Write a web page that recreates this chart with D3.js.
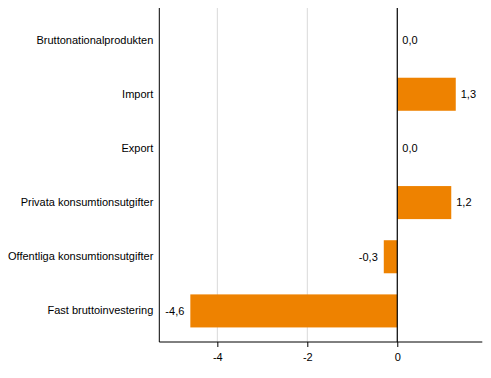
<!DOCTYPE html>
<html><head><meta charset="utf-8">
<script src="https://cdn.jsdelivr.net/npm/d3@7"></script>
<style>body{margin:0;background:#fff}svg{display:block}text{font-family:"Liberation Sans",Arial,sans-serif;font-size:11px;fill:#000}</style>
</head><body><svg id="c" width="491" height="378"></svg>
<script>
const categories = ["Bruttonationalprodukten","Import","Export","Privata konsumtionsutgifter","Offentliga konsumtionsutgifter","Fast bruttoinvestering"];
const values = [0.0, 1.3, 0.0, 1.2, -0.3, -4.6];
const xTicks = [-4, -2, 0];

(function () {
const svg = d3.select("#c");
const mLeft = 159.3, mRight = 482.3, mTop = 8, mBottom = 342;
const x = d3.scaleLinear().domain([-5.29, 1.89]).range([mLeft, mRight]);
const y = d3.scaleBand().domain(categories).range([13, 338]).paddingInner(0.39).paddingOuter(0.195);
const fmt = v => d3.format(".1f")(v).replace(".", ",").replace("−","-");

// gridlines
svg.append("g").selectAll("line").data(xTicks.filter(t => t !== 0)).join("line")
  .attr("x1", d => x(d)).attr("x2", d => x(d)).attr("y1", mTop).attr("y2", mBottom)
  .attr("stroke", "#d9d9d9").attr("stroke-width", 1);

// bars
svg.append("g").selectAll("rect").data(values).join("rect")
  .attr("x", d => x(Math.min(0, d))).attr("width", d => Math.abs(x(d) - x(0)))
  .attr("y", (d, i) => y(categories[i])).attr("height", y.bandwidth())
  .attr("fill", "#ee8200");

// zero line
svg.append("line").attr("x1", x(0)).attr("x2", x(0)).attr("y1", mTop).attr("y2", mBottom)
  .attr("stroke", "#000").attr("stroke-width", 1.2);

// y axis
const ya = svg.append("g").attr("transform", `translate(${mLeft},0)`)
  .call(d3.axisLeft(y).tickSize(0).tickPadding(6));
ya.select(".domain").attr("stroke", "#000").attr("d", `M0,${mTop}V${mBottom}`);
ya.selectAll("text").attr("font-size", null).attr("font-family", null).style("font-size", "11px");

// x axis
const xa = svg.append("g").attr("transform", `translate(0,${mBottom})`)
  .call(d3.axisBottom(x).tickValues(xTicks).tickSize(5).tickPadding(6).tickFormat(d => d3.format("d")(d).replace("−","-")));
xa.select(".domain").attr("stroke", "#000").attr("d", `M${mLeft},0H${mRight}`);
xa.selectAll(".tick line").attr("stroke", "#000");
xa.selectAll("text").attr("font-size", null).attr("font-family", null).style("font-size", "11px");

// value labels
svg.append("g").selectAll("text").data(values).join("text")
  .attr("x", d => d < 0 ? x(d) - 6 : x(d) + 5)
  .attr("y", (d, i) => y(categories[i]) + y.bandwidth() / 2)
  .attr("dy", "0.35em")
  .attr("text-anchor", d => d < 0 ? "end" : "start")
  .text(d => fmt(d));
})();
</script></body></html>
